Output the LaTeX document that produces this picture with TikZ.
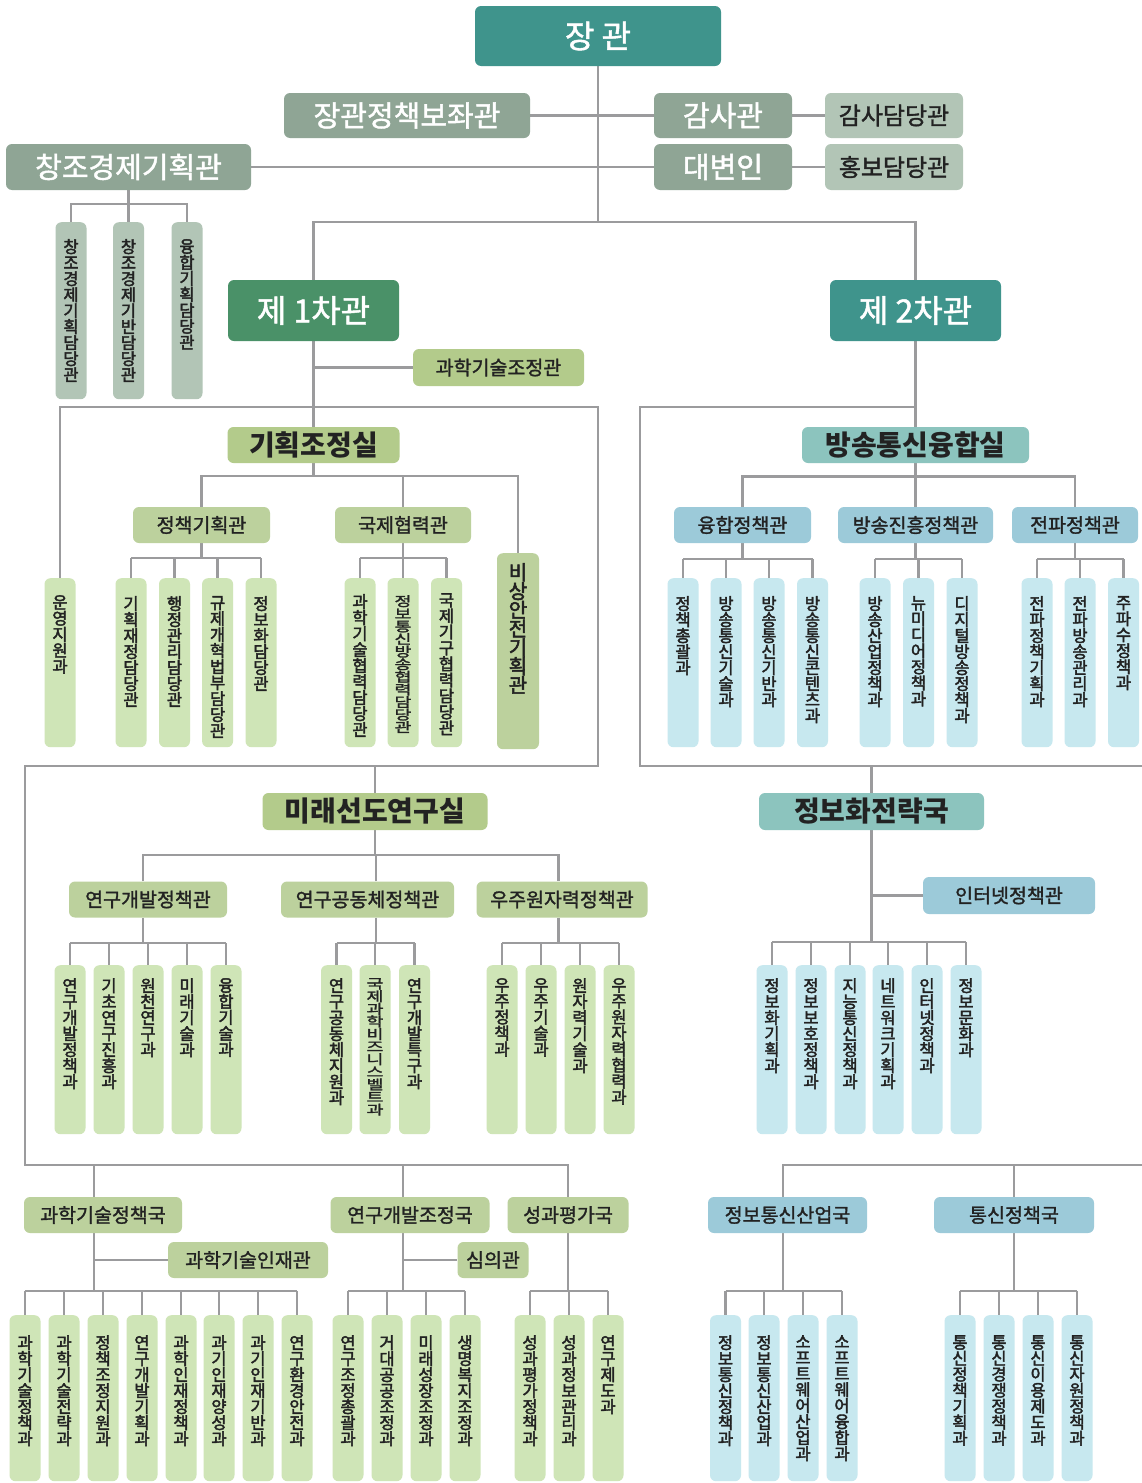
\documentclass[tikz,border=0pt]{standalone}
\usepackage{fontspec}
\setmainfont{Noto Sans CJK KR}
\newfontfamily\mf[FakeBold=1.5]{Noto Sans CJK KR}
\newfontfamily\vf[FakeBold=2.5]{Noto Sans CJK KR}
\newfontfamily\sqf[FakeBold=2,FakeStretch=1.4]{Noto Sans CJK KR}
\usetikzlibrary{backgrounds}
\definecolor{tealD}{HTML}{3F948C}
\definecolor{grnD}{HTML}{4A9168}
\definecolor{gryD}{HTML}{8FA595}
\definecolor{gryL}{HTML}{B2C5B6}
\definecolor{grnM}{HTML}{B3CB8B}
\definecolor{grnS}{HTML}{BCD19D}
\definecolor{grnL}{HTML}{CFE5B7}
\definecolor{tealL}{HTML}{8CC4BE}
\definecolor{bluM}{HTML}{9CCAD9}
\definecolor{bluL}{HTML}{C7E8EF}
\definecolor{lnc}{HTML}{9B9B9D}
\definecolor{txt}{HTML}{222222}
\def\stk#1{\stkA#1\relax}
\def\stkA#1{\ifx\relax#1\else#1\par\expandafter\stkA\fi}
\newcommand\fA{\mf\fontsize{32}{38}\selectfont}
\newcommand\fB{\mf\fontsize{29}{34}\selectfont}
\newcommand\fC{\mf\fontsize{24}{28}\selectfont}
\newcommand\fD{\fontsize{28}{33}\selectfont\bfseries}
\newcommand\fE{\mf\fontsize{19.5}{23}\selectfont}
\newcommand\vfont{\vf\fontsize{16.5}{16}\selectfont}
\newcommand\vsq{\sqf\fontsize{13.2}{12.6}\selectfont}
\newcommand\vnode[8][\vfont]{%
  \node[vb, fill=#6] (#2) at (#3,#4) {\parbox[c][\dimexpr #5pt-#4pt\relax][t]{31pt}{#1\lineskiplimit=-100pt\relax\vspace*{#7pt}\centering\stk{#8}}};}
\begin{document}
\begin{tikzpicture}[x=1pt,y=-1pt,
  ln/.style={draw=lnc, line width=2.6pt},
  hbx/.style={rectangle, rounded corners=6pt, inner sep=0pt, text=txt},
  vb/.style={rectangle, rounded corners=6pt, inner sep=0pt, minimum width=31pt, anchor=north, text=txt}]
\useasboundingbox (0,0) rectangle (1142,1483);

% ---------- top ----------
\node[hbx, fill=tealD, text=white, minimum width=246pt, minimum height=60pt, font=\fA] (jg) at (598,36) {장 관};
\node[hbx, fill=gryD, text=white, minimum width=246pt, minimum height=45pt, font=\fB] (bj) at (407,115.5) {장관정책보좌관};
\node[hbx, fill=gryD, text=white, minimum width=138pt, minimum height=45pt, font=\fB] (gs) at (723,115.5) {감사관};
\node[hbx, fill=gryL, minimum width=138pt, minimum height=45pt, font=\fC] (gsd) at (894,115.5) {감사담당관};
\node[hbx, fill=gryD, text=white, minimum width=245pt, minimum height=46pt, font=\fB] (cj) at (128.5,167) {창조경제기획관};
\node[hbx, fill=gryD, text=white, minimum width=138pt, minimum height=46pt, font=\fB] (db) at (723,167) {대변인};
\node[hbx, fill=gryL, minimum width=138pt, minimum height=46pt, font=\fC] (hbd) at (894,167) {홍보담당관};
\vnode{c1}{71}{222}{399}{gryL}{17}{창조경제기획담당관}
\vnode{c2}{128.5}{222}{399}{gryL}{17}{창조경제기반담당관}
\vnode{c3}{187}{222}{399}{gryL}{17}{융합기획담당관}

\node[hbx, fill=grnD, text=white, minimum width=171pt, minimum height=61pt, font=\fA] (v1) at (313.5,310.5) {제 1차관};
\node[hbx, fill=tealD, text=white, minimum width=171pt, minimum height=61pt, font=\fA] (v2) at (915.5,310.5) {제 2차관};
\node[hbx, fill=grnM, minimum width=171pt, minimum height=37pt, font=\fE] (gjj) at (498.5,367.5) {과학기술조정관};

% ---------- 기획조정실 ----------
\node[hbx, fill=grnM, minimum width=172pt, minimum height=36pt, font=\fD] (gjs) at (313.5,445) {기획조정실};
\node[hbx, fill=grnS, minimum width=137pt, minimum height=36pt, font=\fE] (jk) at (201.5,525) {정책기획관};
\node[hbx, fill=grnS, minimum width=136pt, minimum height=36pt, font=\fE] (gh) at (403,525) {국제협력관};
\vnode{yj}{60}{578}{747}{grnL}{17}{운영지원과}
\vnode{k1}{131}{578}{747}{grnL}{18}{기획재정담당관}
\vnode{k2}{174.5}{578}{747}{grnL}{18}{행정관리담당관}
\vnode{k3}{217.6}{578}{747}{grnL}{18}{규제개혁법부담당관}
\vnode{k4}{261}{578}{747}{grnL}{18}{정보화담당관}
\vnode{g1}{360}{578}{747}{grnL}{16}{과학기술협력담당관}
\vnode[\vsq]{g2}{403}{578}{747}{grnL}{17}{정보통신방송협력담당관}
\vnode{g3}{446.5}{578}{747}{grnL}{15}{국제기구협력담당관}
\node[vb, fill=grnS, minimum width=42pt] (bs) at (518,553) {\parbox[c][196pt][t]{42pt}{\vf\fontsize{20}{18.8}\selectfont\lineskiplimit=-100pt\relax\vspace*{10pt}\centering\stk{비상안전기획관}}};

% ---------- 방송통신융합실 ----------
\node[hbx, fill=tealL, minimum width=227pt, minimum height=36pt, font=\fD] (bt) at (915.5,445) {방송통신융합실};
\node[hbx, fill=bluM, minimum width=137pt, minimum height=36pt, font=\fE] (yh) at (742.5,525) {융합정책관};
\node[hbx, fill=bluM, minimum width=155pt, minimum height=36pt, font=\fE] (bjh) at (915.5,525) {방송진흥정책관};
\node[hbx, fill=bluM, minimum width=126pt, minimum height=36pt, font=\fE] (jp) at (1075,525) {전파정책관};
\vnode{a1}{683}{578}{747}{bluL}{18}{정책총괄과}
\vnode{a2}{726}{578}{747}{bluL}{18}{방송통신기술과}
\vnode{a3}{769}{578}{747}{bluL}{18}{방송통신기반과}
\vnode{a4}{812.5}{578}{747}{bluL}{18}{방송통신콘텐츠과}
\vnode{b1}{875}{578}{747}{bluL}{18}{방송산업정책과}
\vnode{b2}{918.5}{578}{747}{bluL}{18}{뉴미디어정책과}
\vnode{b3}{962}{578}{747}{bluL}{18}{디지털방송정책과}
\vnode{e1}{1037}{578}{747}{bluL}{18}{전파정책기획과}
\vnode{e2}{1080}{578}{747}{bluL}{18}{전파방송관리과}
\vnode{e3}{1123.5}{578}{747}{bluL}{18}{주파수정책과}

% ---------- 미래선도연구실 ----------
\node[hbx, fill=grnM, minimum width=225pt, minimum height=37pt, font=\fD] (mr) at (375,811.5) {미래선도연구실};
\node[hbx, fill=grnS, minimum width=158pt, minimum height=36pt, font=\fE] (ms1) at (148,899.5) {연구개발정책관};
\node[hbx, fill=grnS, minimum width=173pt, minimum height=36pt, font=\fE] (ms2) at (367.5,899.5) {연구공동체정책관};
\node[hbx, fill=grnS, minimum width=171pt, minimum height=36pt, font=\fE] (ms3) at (562,899.5) {우주원자력정책관};
\vnode{m1}{70}{965}{1134}{grnL}{13}{연구개발정책과}
\vnode{m2}{109}{965}{1134}{grnL}{13}{기초연구진흥과}
\vnode{m3}{148}{965}{1134}{grnL}{13}{원천연구과}
\vnode{m4}{187}{965}{1134}{grnL}{13}{미래기술과}
\vnode{m5}{226}{965}{1134}{grnL}{13}{융합기술과}
\vnode{n1}{336.5}{965}{1134}{grnL}{13}{연구공동체지원과}
\vnode[\vsq]{n2}{375}{965}{1134}{grnL}{13}{국제과학비즈니스벨트과}
\vnode{n3}{414.5}{965}{1134}{grnL}{13}{연구개발특구과}
\vnode{o1}{502}{965}{1134}{grnL}{13}{우주정책과}
\vnode{o2}{541}{965}{1134}{grnL}{13}{우주기술과}
\vnode{o3}{580}{965}{1134}{grnL}{13}{원자력기술과}
\vnode{o4}{619}{965}{1134}{grnL}{13}{우주원자력협력과}

% ---------- 정보화전략국 ----------
\node[hbx, fill=tealL, minimum width=225pt, minimum height=37pt, font=\fD] (js) at (871.5,811.5) {정보화전략국};
\node[hbx, fill=bluM, minimum width=172pt, minimum height=37pt, font=\fE] (it) at (1009,895.5) {인터넷정책관};
\vnode{i1}{772}{965}{1134}{bluL}{13}{정보화기획과}
\vnode{i2}{811}{965}{1134}{bluL}{13}{정보보호정책과}
\vnode{i3}{850}{965}{1134}{bluL}{13}{지능통신정책과}
\vnode{i4}{888}{965}{1134}{bluL}{13}{네트워크기획과}
\vnode{i5}{927}{965}{1134}{bluL}{13}{인터넷정책과}
\vnode{i6}{966}{965}{1134}{bluL}{13}{정보문화과}

% ---------- bottom left ----------
\node[hbx, fill=grnS, minimum width=158pt, minimum height=36pt, font=\fE] (gt) at (103,1215) {과학기술정책국};
\node[hbx, fill=grnS, minimum width=160pt, minimum height=36pt, font=\fE] (gin) at (248,1260) {과학기술인재관};
\node[hbx, fill=grnS, minimum width=159pt, minimum height=36pt, font=\fE] (yg) at (410,1215) {연구개발조정국};
\node[hbx, fill=grnS, minimum width=71pt, minimum height=36pt, font=\fE] (sy) at (493,1260) {심의관};
\node[hbx, fill=grnS, minimum width=121pt, minimum height=36pt, font=\fE] (sg) at (568,1215) {성과평가국};
\vnode{t1}{25}{1315}{1481}{grnL}{20}{과학기술정책과}
\vnode{t2}{64}{1315}{1481}{grnL}{20}{과학기술전략과}
\vnode{t3}{103}{1315}{1481}{grnL}{20}{정책조정지원과}
\vnode{t4}{142}{1315}{1481}{grnL}{20}{연구개발기획과}
\vnode{t5}{181}{1315}{1481}{grnL}{20}{과학인재정책과}
\vnode{t6}{219}{1315}{1481}{grnL}{20}{과기인재양성과}
\vnode{t7}{258}{1315}{1481}{grnL}{20}{과기인재기반과}
\vnode{t8}{297}{1315}{1481}{grnL}{20}{연구환경안전과}
\vnode{u1}{348}{1315}{1481}{grnL}{20}{연구조정총괄과}
\vnode{u2}{387}{1315}{1481}{grnL}{20}{거대공공조정과}
\vnode{u3}{426}{1315}{1481}{grnL}{20}{미래성장조정과}
\vnode{u4}{465}{1315}{1481}{grnL}{20}{생명복지조정과}
\vnode{w1}{530}{1315}{1481}{grnL}{20}{성과평가정책과}
\vnode{w2}{569}{1315}{1481}{grnL}{20}{성과정보관리과}
\vnode{w3}{608}{1315}{1481}{grnL}{20}{연구제도과}

% ---------- bottom right ----------
\node[hbx, fill=bluM, minimum width=159pt, minimum height=36pt, font=\fE] (jt) at (787.5,1215) {정보통신산업국};
\node[hbx, fill=bluM, minimum width=160pt, minimum height=36pt, font=\fE] (tj) at (1014,1215) {통신정책국};
\vnode{p1}{725.5}{1315}{1481}{bluL}{20}{정보통신정책과}
\vnode{p2}{764}{1315}{1481}{bluL}{20}{정보통신산업과}
\vnode{p3}{803}{1315}{1481}{bluL}{20}{소프트웨어산업과}
\vnode{p4}{842}{1315}{1481}{bluL}{20}{소프트웨어융합과}
\vnode{q1}{960}{1315}{1481}{bluL}{20}{통신정책기획과}
\vnode{q2}{999}{1315}{1481}{bluL}{20}{통신경쟁정책과}
\vnode{q3}{1038}{1315}{1481}{bluL}{20}{통신이용제도과}
\vnode{q4}{1077}{1315}{1481}{bluL}{20}{통신자원정책과}

% ---------- connectors ----------
\begin{scope}[on background layer]
\fill[white] (0,0) rectangle (1142,1483);
\coordinate (tb) at (598,222);
\draw[ln] (jg.south) -- (tb);
\draw[ln] (bj.east) -- (gs.west);
\draw[ln] (gs.east) -- (gsd.west);
\draw[ln] (cj.east) -- (db.west);
\draw[ln] (db.east) -- (hbd.west);
\draw[ln] (v1.north) -- (v1.north |- tb) -- (v2.north |- tb) -- (v2.north);
\coordinate (cb) at (0,204);
\draw[ln] (cj.south) -- (cj.south |- cb);
\draw[ln] (c1.north) -- (c1.north |- cb) -- (c3.north |- cb) -- (c3.north);
\draw[ln] (c2.north) -- (c2.north |- cb);
% 1st vice minister
\draw[ln] (v1.south) -- (gjs.north);
\draw[ln] (v1.south |- gjj.west) -- (gjj.west);
\coordinate (r1) at (598,407);
\coordinate (r2) at (598,766);
\coordinate (l1) at (25,766);
\coordinate (l2) at (25,1165);
\draw[ln] (yj.north) -- (yj.north |- r1) -- (r1) -- (r2) -- (l1) -- (l2) -- (sg.north |- l2) -- (sg.north);
\draw[ln] (mr.north) -- (mr.north |- r2);
\coordinate (gtt) at ([xshift=-9pt]gt.north);
\coordinate (ygt) at ([xshift=-7pt]yg.north);
\draw[ln] (gtt) -- (gtt |- l2);
\draw[ln] (ygt) -- (ygt |- l2);
% 기획조정실
\coordinate (gb) at (0,476);
\draw[ln] (gjs.south) -- (gjs.south |- gb);
\draw[ln] (jk.north) -- (jk.north |- gb) -- (bs.north |- gb) -- (bs.north);
\draw[ln] (gh.north) -- (gh.north |- gb);
\coordinate (kb) at (0,558);
\draw[ln] (jk.south) -- (jk.south |- kb);
\draw[ln] (k1.north |- kb) -- (k4.north |- kb);
\foreach \c in {k1,k2,k3,k4} \draw[ln] (\c.north) -- (\c.north |- kb);
\draw[ln] (gh.south) -- (gh.south |- kb);
\draw[ln] (g1.north |- kb) -- (g3.north |- kb);
\foreach \c in {g1,g2,g3} \draw[ln] (\c.north) -- (\c.north |- kb);
% 2nd vice minister
\coordinate (s1) at (640,407);
\coordinate (s2) at (640,766);
\coordinate (s3) at (1142,766);
\draw[ln] (v2.south) -- (bt.north);
\draw[ln] (v2.south |- s1) -- (s1) -- (s2) -- (s3);
\draw[ln] (js.north) -- (js.north |- s2);
\coordinate (bb) at (0,476.5);
\draw[ln] (bt.south) -- (bjh.north);
\draw[ln] (yh.north) -- (yh.north |- bb) -- (jp.north |- bb) -- (jp.north);
\coordinate (ab) at (0,559);
\draw[ln] (yh.south) -- (yh.south |- ab);
\draw[ln] (a1.north |- ab) -- (a4.north |- ab);
\foreach \c in {a1,a2,a3,a4} \draw[ln] (\c.north) -- (\c.north |- ab);
\draw[ln] (bjh.south) -- (bjh.south |- ab);
\draw[ln] (b1.north |- ab) -- (b3.north |- ab);
\foreach \c in {b1,b2,b3} \draw[ln] (\c.north) -- (\c.north |- ab);
\draw[ln] (jp.south) -- (jp.south |- ab);
\draw[ln] (e1.north |- ab) -- (e3.north |- ab);
\foreach \c in {e1,e2,e3} \draw[ln] (\c.north) -- (\c.north |- ab);
% 미래선도연구실
\coordinate (mb) at (0,855);
\coordinate (ms1t) at ([xshift=-5pt]ms1.north);
\coordinate (ms2t) at ([xshift=8.5pt]ms2.north);
\coordinate (ms3t) at ([xshift=-3.5pt]ms3.north);
\coordinate (ms1b) at ([xshift=-5pt]ms1.south);
\coordinate (ms2b) at ([xshift=8.5pt]ms2.south);
\coordinate (ms3b) at ([xshift=-3.5pt]ms3.south);
\draw[ln] (mr.south) -- (mr.south |- mb);
\draw[ln] (ms1t) -- (ms1t |- mb) -- (ms3t |- mb) -- (ms3t);
\draw[ln] (ms2t) -- (ms2t |- mb);
\coordinate (nb) at (0,943);
\draw[ln] (ms1b) -- (ms1b |- nb);
\draw[ln] (m1.north |- nb) -- (m5.north |- nb);
\foreach \c in {m1,m2,m3,m4,m5} \draw[ln] (\c.north) -- (\c.north |- nb);
\draw[ln] (ms2b) -- (ms2b |- nb);
\draw[ln] (n1.north |- nb) -- (n3.north |- nb);
\foreach \c in {n1,n2,n3} \draw[ln] (\c.north) -- (\c.north |- nb);
\draw[ln] (ms3b) -- (ms3b |- nb);
\draw[ln] (o1.north |- nb) -- (o4.north |- nb);
\foreach \c in {o1,o2,o3,o4} \draw[ln] (\c.north) -- (\c.north |- nb);
% 정보화전략국
\coordinate (jb) at (0,942);
\draw[ln] (js.south) -- (js.south |- jb);
\draw[ln] (js.south |- it.west) -- (it.west);
\draw[ln] (i1.north |- jb) -- (i6.north |- jb);
\foreach \c in {i1,i2,i3,i4,i5,i6} \draw[ln] (\c.north) -- (\c.north |- jb);
% bottom left
\coordinate (tbb) at (0,1291);
\coordinate (gtb) at ([xshift=-9pt]gt.south);
\coordinate (ygb) at ([xshift=-7pt]yg.south);
\draw[ln] (gtb) -- (gtb |- tbb);
\draw[ln] (gtb |- gin.west) -- (gin.west);
\draw[ln] (t1.north |- tbb) -- (t8.north |- tbb);
\foreach \c in {t1,t2,t3,t4,t5,t6,t7,t8} \draw[ln] (\c.north) -- (\c.north |- tbb);
\draw[ln] (ygb) -- (ygb |- tbb);
\draw[ln] (ygb |- sy.west) -- (sy.west);
\draw[ln] (u1.north |- tbb) -- (u4.north |- tbb);
\foreach \c in {u1,u2,u3,u4} \draw[ln] (\c.north) -- (\c.north |- tbb);
\draw[ln] (sg.south) -- (sg.south |- tbb);
\draw[ln] (w1.north |- tbb) -- (w3.north |- tbb);
\foreach \c in {w1,w2,w3} \draw[ln] (\c.north) -- (\c.north |- tbb);
% bottom right
\coordinate (z1) at (1142,1165);
\coordinate (jtt) at ([xshift=-4.5pt]jt.north);
\coordinate (jtb) at ([xshift=-4.5pt]jt.south);
\draw[ln] (jtt) -- (jtt |- z1) -- (z1);
\draw[ln] (tj.north) -- (tj.north |- z1);
\draw[ln] (jtb) -- (jtb |- tbb);
\draw[ln] (p1.north |- tbb) -- (p4.north |- tbb);
\foreach \c in {p1,p2,p3,p4} \draw[ln] (\c.north) -- (\c.north |- tbb);
\draw[ln] (tj.south) -- (tj.south |- tbb);
\draw[ln] (q1.north |- tbb) -- (q4.north |- tbb);
\foreach \c in {q1,q2,q3,q4} \draw[ln] (\c.north) -- (\c.north |- tbb);
\end{scope}
\end{tikzpicture}
\end{document}
